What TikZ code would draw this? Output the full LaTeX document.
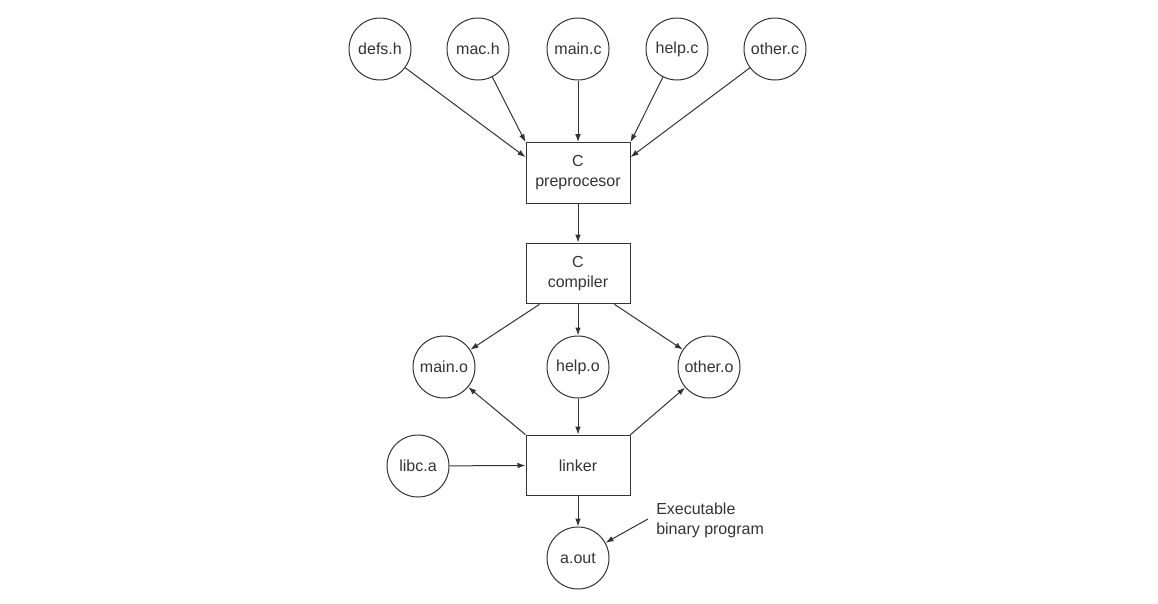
\documentclass[tikz,border=0pt]{standalone}
\usepackage{fontspec}
\setmainfont{Liberation Sans}
\usetikzlibrary{arrows.meta,calc}
\definecolor{ink}{HTML}{333333}
\begin{document}
\begin{tikzpicture}[x=0.75pt,y=-0.75pt,
  every node/.style={text=ink,font=\fontsize{12}{15}\selectfont},
  file/.style={circle,draw=ink,line width=0.75pt,minimum size=46.5pt,inner sep=0pt},
  stage/.style={rectangle,draw=ink,line width=0.75pt,minimum width=78pt,minimum height=45.5pt,inner sep=0pt,align=center},
  arr/.style={draw=ink,line width=0.75pt,-{Latex[length=6pt,width=4.2pt]}}]
\useasboundingbox (0,0) rectangle (1158,604);
% inputs
\node[file] (defs) at (380,49) {defs.h};
\node[file] (mac) at (478,49) {mac.h};
\node[file] (mainc) at (578,49) {main.c};
\node[file] (helpc) at (677,49) {help.c};
\node[file] (otherc) at (775,49) {other.c};
% stages
\node[stage] (pre) at (578,173) {C\\preprocesor};
\node[stage] (comp) at (578,273.5) {C\\compiler};
\node[file] (maino) at (444,367) {main.o};
\node[file] (helpo) at (578,367) {help.o};
\node[file] (othero) at (709,367) {other.o};
\node[stage] (linker) at (578,465.5) {linker};
\node[file] (libc) at (418,466) {libc.a};
\node[file] (aout) at (578,558) {a.out};
\node[anchor=west,align=left,inner sep=0pt] (exe) at (656,520) {Executable\\binary program};
% connectors
\coordinate (preL) at ($(pre.north west)+(0,15)$);
\coordinate (preR) at ($(pre.north east)+(0,15)$);
\coordinate (compL) at ($(comp.south west)+(14,0)$);
\coordinate (compR) at ($(comp.south east)+(-16,0)$);
\coordinate (exeS) at (648,519);
\draw[arr] (defs) -- (preL);
\draw[arr] (mac) -- (pre.north west);
\draw[arr] (mainc) -- (pre.north);
\draw[arr] (helpc) -- (pre.north east);
\draw[arr] (otherc) -- (preR);
\draw[arr] (pre.south) -- (comp.north);
\draw[arr] (compL) -- (maino);
\draw[arr] (comp.south) -- (helpo);
\draw[arr] (compR) -- (othero);
\draw[arr] (linker.north west) -- (maino);
\draw[arr] (helpo) -- (linker.north);
\draw[arr] (linker.north east) -- (othero);
\draw[arr] (libc) -- (linker.west);
\draw[arr] (linker.south) -- (aout);
\draw[arr] (exeS) -- (aout);
\end{tikzpicture}
\end{document}
